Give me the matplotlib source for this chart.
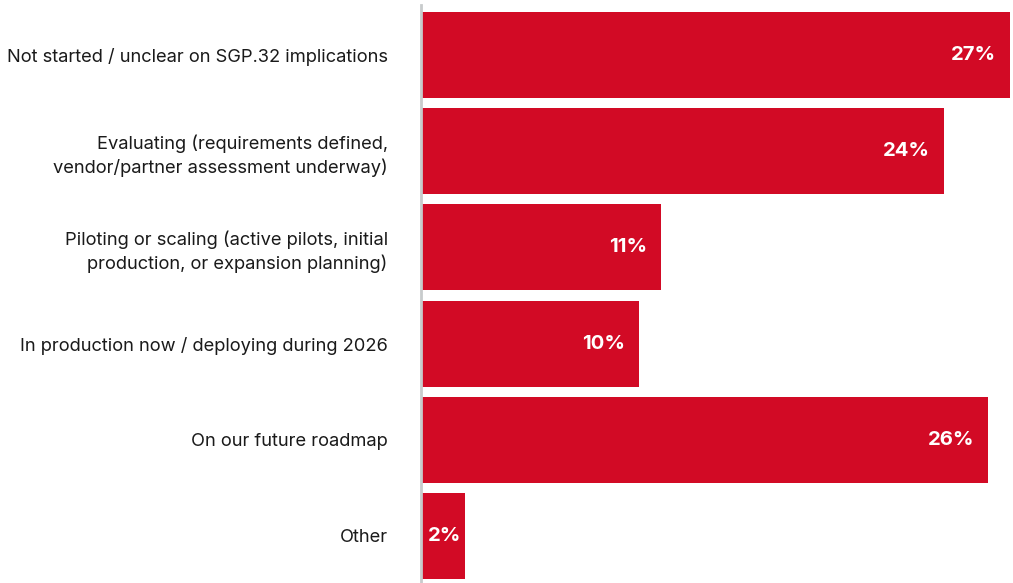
import matplotlib.pyplot as plt

plt.rcParams['font.family'] = ['Inter', 'DejaVu Sans']

# survey responses
categories = [
    'Not started / unclear on SGP.32 implications',
    'Evaluating (requirements defined,\nvendor/partner assessment underway)',
    'Piloting or scaling (active pilots, initial\nproduction, or expansion planning)',
    'In production now / deploying during 2026',
    'On our future roadmap',
    'Other',
]
shares = [27, 24, 11, 10, 26, 2]

bar_color = '#D20A25'

fig = plt.figure(figsize=(10.13, 5.83), dpi=100)
ax = fig.add_axes([421 / 1013, 0, 590 / 1013, 578 / 583])

ypos = list(range(len(categories)))
ax.barh(ypos, shares, height=0.894, color=bar_color, left=0)
ax.set_xlim(0, 27.05)
ax.set_ylim(5.49, -0.52)

# value labels inside the bar ends; tiny bars get a centred label
for y, v in zip(ypos, shares):
    if v < 4:
        ax.text(v / 2 + 0.1, y, f'{v}%', ha='center', va='center', color='white',
                fontsize=14.6, fontweight='bold')
    else:
        ax.text(v - 0.65, y, f'{v}%', ha='right', va='center', color='white',
                fontsize=14.6, fontweight='bold')

ax.set_yticks(ypos)
ax.set_yticklabels(categories, fontsize=13.2, color='#1a1a1a', linespacing=1.38)
ax.tick_params(axis='y', length=0, pad=24)
ax.set_xticks([])

for side in ['top', 'right', 'bottom']:
    ax.spines[side].set_visible(False)
ax.spines['left'].set_color('#c8cbcc')
ax.spines['left'].set_linewidth(2)

fig.savefig('out.png', dpi=100)
